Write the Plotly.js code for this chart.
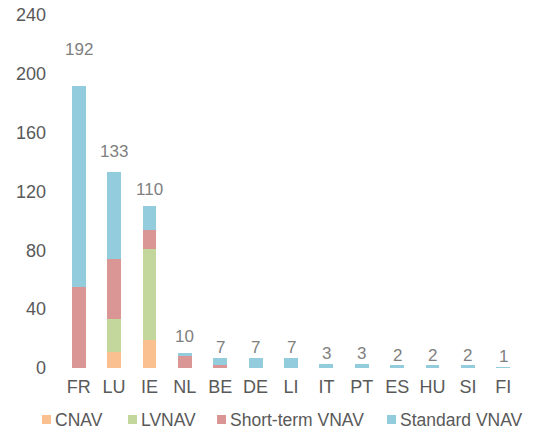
<!DOCTYPE html>
<html>
<head>
<meta charset="utf-8">
<script src="https://cdn.plot.ly/plotly-3.0.1.min.js"></script>
<style>
  html, body { margin: 0; padding: 0; background: #ffffff; }
  #chart { width: 553px; height: 430px; }
</style>
</head>
<body>
<div id="chart"></div>
<script>
const countries = ['FR', 'LU', 'IE', 'NL', 'BE', 'DE', 'LI', 'IT', 'PT', 'ES', 'HU', 'SI', 'FI'];
const cnav      = [0, 11, 19, 0, 0, 0, 0, 0, 0, 0, 0, 0, 0];
const lvnav     = [0, 22, 62, 0, 0, 0, 0, 0, 0, 0, 0, 0, 0];
const shortTerm = [55, 41, 13, 8, 2, 0, 0, 0, 0, 0, 0, 0, 0];
const standard  = [137, 59, 16, 2, 5, 7, 7, 3, 3, 2, 2, 2, 1];
const yTicks = [0, 40, 80, 120, 160, 200, 240];

const seriesNames = ['CNAV', 'LVNAV', 'Short-term VNAV', 'Standard VNAV'];
const seriesColors = ['#FAC090', '#C3D69B', '#D99694', '#93CDDD'];

const textColor = '#595959';
const labelColor = '#7f7f7f';
const fontFamily = 'Liberation Sans, Arial, sans-serif';

// plot box in pixels (matches margins below)
const M = { l: 61, r: 32, t: 15, b: 62 };
const W = 553, H = 430;
const plotW = W - M.l - M.r, plotH = H - M.t - M.b;
const px = x => (x - M.l) / plotW;
const py = y => (H - M.b - y) / plotH;

// total on top of each stack; labels were hand-placed in the original, so lift a couple
const totals = countries.map((_, i) => cnav[i] + lvnav[i] + shortTerm[i] + standard[i]);
const labelLift = [36, 21, 17, 17, 10, 10, 10, 10, 10, 10, 10, 10, 10];

const data = [cnav, lvnav, shortTerm, standard].map((vals, k) => ({
    type: 'bar',
    name: seriesNames[k],
    x: countries,
    y: vals,
    marker: { color: seriesColors[k], line: { width: 0 } },
    hoverinfo: 'x+y+name'
}));

const annotations = countries.map((c, i) => ({
    x: c,
    y: totals[i],
    xref: 'x',
    yref: 'y',
    text: String(totals[i]),
    showarrow: false,
    yanchor: 'middle',
    yshift: labelLift[i],
    font: { family: fontFamily, size: 17, color: labelColor }
}));

// legend drawn by hand so swatch spacing matches the original
const legendX = [42, 128, 217, 387];
const shapes = [];
seriesNames.forEach((name, k) => {
    shapes.push({
        type: 'rect',
        xref: 'paper', yref: 'paper',
        x0: px(legendX[k]), x1: px(legendX[k] + 9),
        y0: py(424), y1: py(415),
        fillcolor: seriesColors[k],
        line: { width: 0 }
    });
    annotations.push({
        xref: 'paper', yref: 'paper',
        x: px(legendX[k] + 11),
        y: py(420),
        xanchor: 'left',
        yanchor: 'middle',
        text: name,
        showarrow: false,
        font: { family: fontFamily, size: 17.5, color: textColor }
    });
});

const layout = {
    width: W,
    height: H,
    barmode: 'stack',
    bargap: 0.61,
    margin: M,
    paper_bgcolor: '#ffffff',
    plot_bgcolor: '#ffffff',
    font: { family: fontFamily, size: 18, color: textColor },
    showlegend: false,
    annotations: annotations,
    shapes: shapes,
    xaxis: {
        type: 'category',
        showline: false,
        showgrid: false,
        zeroline: false,
        ticks: '',
        ticklabelstandoff: 6,
        tickfont: { family: fontFamily, size: 18, color: textColor }
    },
    yaxis: {
        range: [0, 240],
        tickvals: yTicks,
        showline: false,
        showgrid: false,
        zeroline: false,
        ticks: '',
        ticklabelstandoff: 14,
        tickfont: { family: fontFamily, size: 18, color: textColor }
    }
};

Plotly.newPlot('chart', data, layout, { displayModeBar: false, staticPlot: true });
</script>
</body>
</html>
